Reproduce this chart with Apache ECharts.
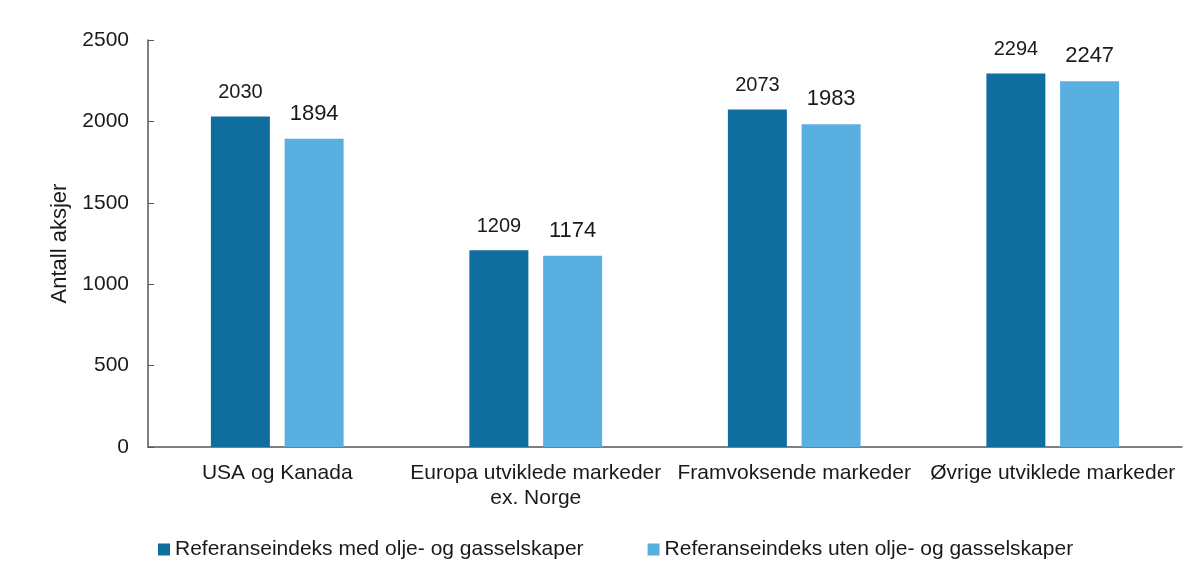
<!DOCTYPE html>
<html>
<head>
    <meta charset="utf-8">
    <title>Antall aksjer</title>
    <script src="https://cdn.jsdelivr.net/npm/echarts@6/dist/echarts.min.js"></script>
    <style>
        html, body { margin: 0; padding: 0; background: #fff; }
    </style>
</head>
<body>
    <div id="chart" style="width: 1202px;height:574px;"></div>
    <script type="text/javascript">
        var categories = ['USA og Kanada', 'Europa utviklede markeder\nex. Norge', 'Framvoksende markeder', 'Øvrige utviklede markeder'];
        var seriesNames = ['Referanseindeks med olje- og gasselskaper', 'Referanseindeks uten olje- og gasselskaper'];
        var medOlje = [2030, 1209, 2073, 2294];
        var utenOlje = [1894, 1174, 1983, 2247];

        var font = 'Liberation Sans, Arial, sans-serif';
        var myChart = echarts.init(document.getElementById('chart'));

        var option = {
            backgroundColor: '#fff',
            animation: false,
            textStyle: { fontFamily: font },
            grid: {
                left: 148,
                right: 20,
                top: 40,
                bottom: 127
            },
            legend: {
                data: seriesNames,
                left: 153,
                top: 534,
                icon: 'rect',
                itemWidth: 12,
                itemHeight: 12,
                itemGap: 64,
                textStyle: { fontSize: 21, color: '#1a1a1a', fontFamily: font }
            },
            xAxis: {
                type: 'category',
                data: categories,
                axisLine: { lineStyle: { color: '#555', width: 1.5 } },
                axisTick: { show: false },
                axisLabel: {
                    fontSize: 21,
                    color: '#1a1a1a',
                    margin: 14,
                    lineHeight: 25,
                    interval: 0
                }
            },
            yAxis: {
                type: 'value',
                min: 0,
                max: 2500,
                interval: 500,
                name: 'Antall aksjer',
                nameLocation: 'middle',
                nameGap: 73,
                nameTextStyle: { fontSize: 22, color: '#1a1a1a' },
                axisLine: { show: true, lineStyle: { color: '#555', width: 1.5 } },
                axisTick: { show: true, inside: true, length: 6, lineStyle: { color: '#555' } },
                splitLine: { show: false },
                axisLabel: {
                    fontSize: 21,
                    color: '#1a1a1a',
                    margin: 19,
                    formatter: function (v) { return String(v); }
                }
            },
            series: [
                {
                    name: seriesNames[0],
                    type: 'bar',
                    data: medOlje,
                    barWidth: 59,
                    barGap: '25%',
                    itemStyle: { color: '#0f6e9e' },
                    label: { show: true, position: 'top', distance: 14, fontSize: 20, color: '#1a1a1a' }
                },
                {
                    name: seriesNames[1],
                    type: 'bar',
                    data: utenOlje,
                    barWidth: 59,
                    barGap: '25%',
                    itemStyle: { color: '#5aafe1' },
                    label: { show: true, position: 'top', distance: 14, fontSize: 22, color: '#1a1a1a' }
                }
            ]
        };

        myChart.setOption(option);
    </script>
</body>
</html>
